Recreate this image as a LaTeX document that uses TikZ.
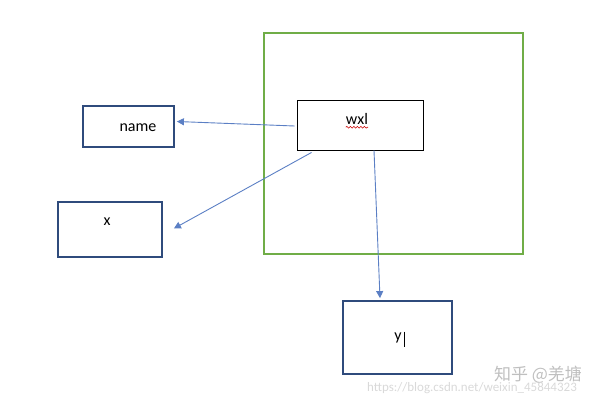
\documentclass[tikz,border=0pt]{standalone}
\usepackage{fontspec}
\setmainfont{Carlito}
\newfontfamily\cjk{Noto Sans CJK SC}
\usetikzlibrary{arrows.meta,decorations.pathmorphing}

\definecolor{boxblue}{HTML}{2F4B7C}
\definecolor{arrowblue}{HTML}{5B7FC4}
\definecolor{framegreen}{HTML}{70AD47}

\begin{document}
\begin{tikzpicture}[x=1pt,y=-1pt,
  varbox/.style={draw=boxblue,line width=1.8pt,inner sep=0pt},
  objbox/.style={draw=black,line width=0.9pt,inner sep=0pt},
  txt/.style={font=\fontsize{16}{19}\selectfont,inner sep=0pt},
  ref/.style={draw=arrowblue,line width=0.9pt,-{Triangle[width=7pt,length=7pt]}}]
  \useasboundingbox (0,0) rectangle (600,401);

  % the object and its frame
  \draw[framegreen,line width=1.8pt] (264,33) rectangle (523,254);
  \node[objbox,minimum width=126pt,minimum height=50pt] (wxl) at (360,125) {};
  \node[txt] (wxltext) at (357,119) {wxl};
  \draw[red!80!black,line width=0.6pt,decoration={snake,amplitude=0.9pt,segment length=3.5pt},decorate]
    ([yshift=-2.5pt]wxltext.south west) -- ([yshift=-2.5pt]wxltext.south east);

  % the variables
  \node[varbox,minimum width=91pt,minimum height=41pt] (name) at (128.5,126.5) {};
  \node[txt] at (138,128) {name};
  \node[varbox,minimum width=104pt,minimum height=55pt] (x) at (110,229.5) {};
  \node[txt] at (107,222) {x};
  \node[varbox,minimum width=109pt,minimum height=73pt] (y) at (397.5,337.5) {};
  \node[txt] (ytext) at (398,338) {y};
  \draw[black,line width=0.6pt] ([xshift=2pt,yshift=1pt]ytext.north east) -- ([xshift=2pt,yshift=-4pt]ytext.south east);

  % references
  \draw[ref] ([xshift=-2pt,yshift=-1pt]wxl.west) -- ([xshift=2pt,yshift=5pt]name.east);
  \draw[ref] ([xshift=15pt,yshift=-2pt]wxl.south west) -- ([xshift=11pt,yshift=1pt]x.east);
  \draw[ref] ([xshift=14pt]wxl.south) -- ([xshift=-17.5pt,yshift=2pt]y.north);

  % watermark
  \node[text=black!25,font=\cjk\fontsize{17}{20}\selectfont] at (538,375) {知乎 @羌塘};
  \node[text=black!15,font=\fontsize{13}{15}\selectfont] at (472,388) {https://blog.csdn.net/weixin\_45844323};
\end{tikzpicture}
\end{document}
